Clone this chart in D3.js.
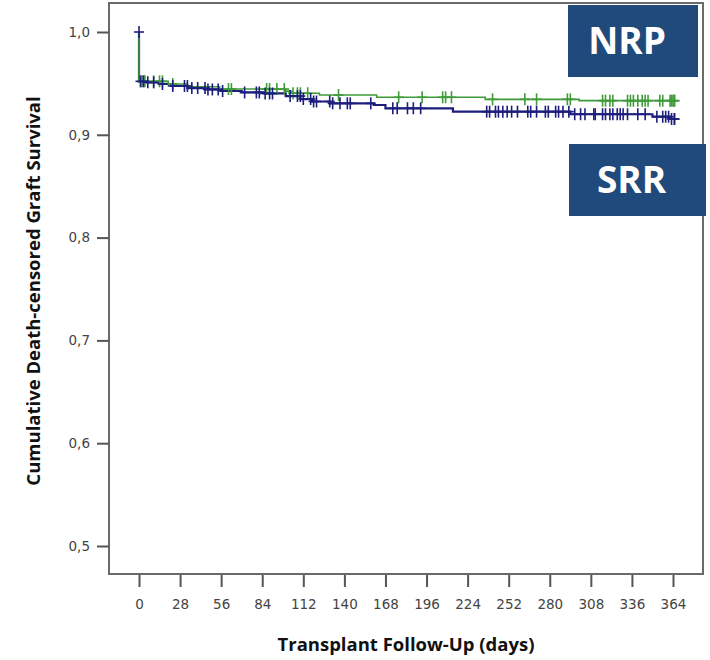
<html>
<head>
<style>
  body { margin: 0; background: #fff; }
  .tick text { font-family: "DejaVu Sans", Verdana, sans-serif; font-size: 13.5px; fill: #444; }
  .axtitle { font-family: "Open Sans", sans-serif; font-weight: bold; font-size: 18.5px; fill: #111; }
  .tag { font-family: "Open Sans", sans-serif; font-weight: bold; font-size: 37px; fill: #fff; }
</style>
</head>
<body>
<script src="https://d3js.org/d3.v7.min.js"></script>
<div id="chart"></div>
<script>
// step events: time (days) and survival after the step
var nrpTimes  = [0, 20, 33, 55, 100, 104, 123, 162, 236, 300];
var nrpValues = [0.952, 0.9494, 0.9468, 0.9445, 0.9425, 0.9404, 0.9387, 0.9365, 0.9345, 0.9332];
var nrpCensor = [2, 4, 10, 14, 16, 23, 61, 63, 87, 89, 94, 99, 105, 108, 110, 115, 136, 177, 193, 207, 209, 213,
                 241, 263, 271, 292, 294, 316, 318, 321, 323, 333, 335, 337, 340, 343, 345, 347, 355, 357,
                 362, 363, 364, 365, 365];

var srrTimes  = [0, 5, 14, 22, 33, 45, 56, 70, 85, 100, 110, 118, 130, 160, 168, 214, 294, 350, 362];
var srrValues = [0.952, 0.951, 0.9494, 0.9475, 0.9455, 0.9441, 0.9426, 0.9412, 0.9402, 0.9377, 0.9348, 0.9324,
                 0.9306, 0.929, 0.9258, 0.9225, 0.920, 0.9176, 0.9154];
var srrCensor = [0, 1, 3, 6, 10, 16, 23, 31, 33, 36, 40, 45, 47, 50, 54, 57, 72, 80, 82, 86, 89, 91, 103, 108, 110,
                 112, 117, 119, 121, 130, 132, 137, 142, 144, 158, 173, 176, 183, 187, 192, 237, 239, 243, 245,
                 248, 251, 254, 258, 265, 267, 271, 277, 279, 284, 286, 289, 293, 297, 301, 304, 310, 311, 316,
                 318, 321, 323, 326, 328, 330, 333, 340, 345, 353, 357, 359, 361, 363, 365, 365];
var endDay = 365;

var xTicks = [0, 28, 56, 84, 112, 140, 168, 196, 224, 252, 280, 308, 336, 364];
var yTicks = [0.5, 0.6, 0.7, 0.8, 0.9, 1.0];

var width = 710, height = 660;
var frame = { left: 109, top: 3, right: 703, bottom: 574 };

var svg = d3.select("#chart").append("svg")
    .attr("width", width)
    .attr("height", height);

var x = d3.scaleLinear().domain([0, 364]).range([139, 673]);
var y = d3.scaleLinear().domain([0.5, 1.0]).range([546, 32]);

// frame
svg.append("rect")
    .attr("x", frame.left).attr("y", frame.top)
    .attr("width", frame.right - frame.left)
    .attr("height", frame.bottom - frame.top)
    .attr("fill", "none")
    .attr("stroke", "#6a6a6a")
    .attr("stroke-width", 2);

// axes
var yAxis = svg.append("g")
    .attr("transform", "translate(" + frame.left + ",0)")
    .call(d3.axisLeft(y).tickValues(yTicks).tickSize(12).tickPadding(7)
        .tickFormat(function (d) { return d.toFixed(1).replace(".", ","); }));
yAxis.select(".domain").remove();
yAxis.selectAll(".tick line").attr("stroke", "#555").attr("stroke-width", 2);

var xAxis = svg.append("g")
    .attr("transform", "translate(0," + (frame.bottom + 1) + ")")
    .call(d3.axisBottom(x).tickValues(xTicks).tickSize(12).tickPadding(12));
xAxis.select(".domain").remove();
xAxis.selectAll(".tick line").attr("stroke", "#555").attr("stroke-width", 2);

svg.append("text").attr("class", "axtitle")
    .attr("x", 406).attr("y", 651)
    .attr("text-anchor", "middle")
    .text("Transplant Follow-Up (days)");

svg.append("text").attr("class", "axtitle")
    .attr("transform", "translate(40,291) rotate(-90)")
    .attr("text-anchor", "middle")
    .text("Cumulative Death-censored Graft Survival");

// Kaplan-Meier curves
function stepPoints(times, values) {
    var pts = [[0, 1.0]];
    times.forEach(function (t, i) { pts.push([t, values[i]]); });
    pts.push([endDay, values[values.length - 1]]);
    return pts;
}
function survAt(times, values, t) {
    var v = 1.0;
    times.forEach(function (tt, i) { if (tt < t) v = values[i]; });
    return v;
}

var line = d3.line()
    .x(function (d) { return x(d[0]); })
    .y(function (d) { return y(d[1]); })
    .curve(d3.curveStepAfter);

var blue = "#1d1d7e", green = "#3f9b38";

svg.append("path")
    .datum(stepPoints(srrTimes, srrValues))
    .attr("fill", "none").attr("stroke", blue).attr("stroke-width", 2.2)
    .attr("d", line);

svg.append("path")
    .datum(stepPoints(nrpTimes, nrpValues))
    .attr("fill", "none").attr("stroke", green).attr("stroke-width", 1.6)
    .attr("d", line);

function drawCensor(list, times, values, color) {
    var g = svg.append("g").attr("stroke", color).attr("stroke-width", 1.6);
    list.forEach(function (t) {
        var cx = x(t), cy = y(survAt(times, values, t));
        g.append("line").attr("x1", cx).attr("x2", cx).attr("y1", cy - 6).attr("y2", cy + 6);
        g.append("line").attr("x1", cx - 5).attr("x2", cx + 5).attr("y1", cy).attr("y2", cy);
    });
}
drawCensor(nrpCensor, nrpTimes, nrpValues, green);
drawCensor(srrCensor, srrTimes, srrValues, blue);

// group labels
var tags = [
    { label: "NRP", x: 568, y: 5, w: 130, h: 72 },
    { label: "SRR", x: 569, y: 144, w: 137, h: 72 }
];
tags.forEach(function (d) {
    svg.append("rect")
        .attr("x", d.x).attr("y", d.y).attr("width", d.w).attr("height", d.h)
        .attr("fill", "#204a7c");
    svg.append("text").attr("class", "tag")
        .attr("x", d.x + d.w / 2 - 6).attr("y", d.y + d.h / 2 + 13)
        .attr("text-anchor", "middle")
        .text(d.label);
});
</script>
</body>
</html>
